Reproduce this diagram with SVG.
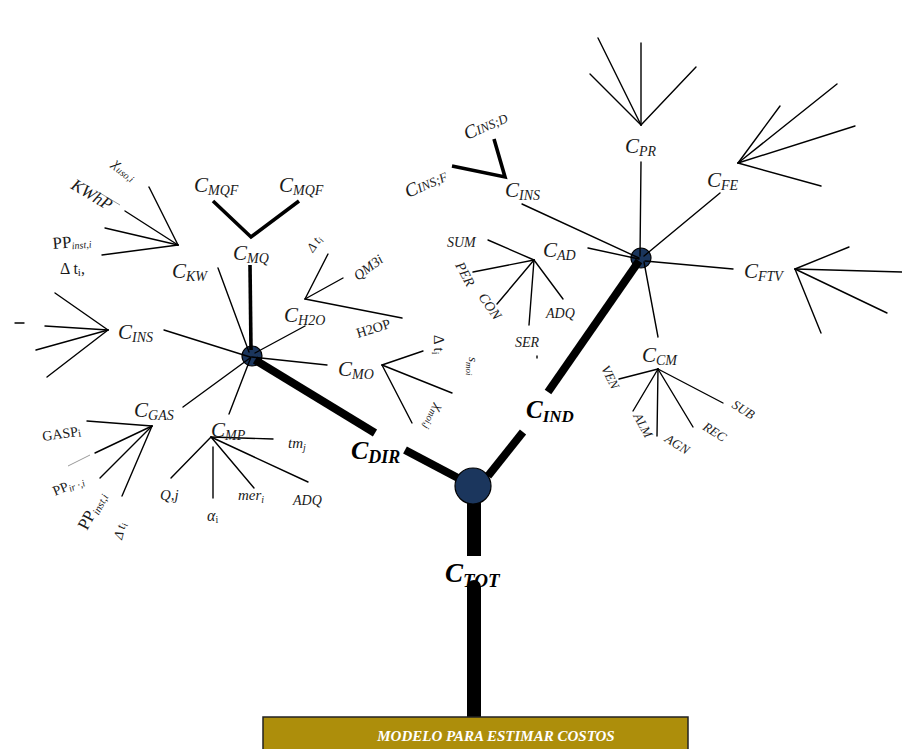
<svg xmlns="http://www.w3.org/2000/svg" width="902" height="749" viewBox="0 0 902 749">
<style>
.t{font-family:"Liberation Serif","Times New Roman",serif;font-style:italic;fill:#1a1a1a}
.c{font-size:21px}
.s{font-size:14px}
.m{font-size:14px}
.b{font-weight:bold;fill:#000}
.thin{stroke:#000;stroke-width:1.4;fill:none;stroke-linecap:round}
.med{stroke:#000;stroke-width:3.6;fill:none;stroke-linecap:butt;stroke-linejoin:miter}
.thick{stroke:#000;stroke-width:8;fill:none;stroke-linecap:butt}
.faint{stroke:#999;stroke-width:1;fill:none}
.node{fill:#1b365d;stroke:#000;stroke-width:1.2}
</style>
<rect width="902" height="749" fill="#fff"/>

<g id="small-nodes">
<circle class="node" cx="252" cy="356" r="10"/>
<circle class="node" cx="641" cy="258" r="10"/>
</g>

<g id="connectors">
<line x1="474" y1="500" x2="474" y2="556" stroke="#000" stroke-width="14"/>
<line x1="474" y1="587" x2="474" y2="717" stroke="#000" stroke-width="14" stroke-linecap="round"/>
<line class="thick" x1="458" y1="478" x2="405" y2="450"/>
<line class="thick" x1="375" y1="433" x2="255" y2="360"/>
<line class="thick" x1="488" y1="476" x2="523" y2="432"/>
<line class="thick" x1="548" y1="392" x2="639" y2="261"/>
<line class="med" x1="250" y1="265" x2="251" y2="350"/>
<polyline class="med" points="213,201 251,237 299,201"/>
<line class="thin" x1="218" y1="268" x2="249" y2="352"/>
<line class="thin" x1="305" y1="326" x2="255" y2="353"/>
<line class="thin" x1="164" y1="330" x2="250" y2="357"/>
<line class="thin" x1="183" y1="407" x2="250" y2="358"/>
<line class="thin" x1="229" y1="414" x2="251" y2="357"/>
<line class="thin" x1="252" y1="357" x2="327" y2="365"/>
<line class="thin" x1="178" y1="245" x2="149" y2="187"/>
<line class="thin" x1="178" y1="245" x2="125" y2="211"/>
<line class="thin" x1="178" y1="245" x2="105" y2="228"/>
<line class="thin" x1="178" y1="245" x2="102" y2="255"/>
<line class="faint" x1="100" y1="193" x2="120" y2="205"/>
<line class="thin" x1="305" y1="299" x2="328" y2="254"/>
<line class="thin" x1="305" y1="299" x2="343" y2="278"/>
<line class="thin" x1="305" y1="299" x2="402" y2="318"/>
<line class="thin" x1="108" y1="330" x2="55" y2="293"/>
<line class="thin" x1="108" y1="330" x2="45" y2="326"/>
<line class="thin" x1="108" y1="330" x2="36" y2="350"/>
<line class="thin" x1="108" y1="330" x2="47" y2="377"/>
<line class="thin" x1="15" y1="323" x2="24" y2="323"/>
<line class="thin" x1="152" y1="426" x2="87" y2="421"/>
<line class="thin" x1="152" y1="426" x2="95" y2="453"/>
<line class="thin" x1="152" y1="426" x2="100" y2="478"/>
<line class="thin" x1="152" y1="426" x2="122" y2="496"/>
<line class="faint" x1="68" y1="466" x2="90" y2="455"/>
<line class="thin" x1="211" y1="437" x2="273" y2="439"/>
<line class="thin" x1="211" y1="437" x2="171" y2="478"/>
<line class="thin" x1="213" y1="447" x2="213" y2="498"/>
<line class="thin" x1="211" y1="437" x2="254" y2="488"/>
<line class="thin" x1="211" y1="437" x2="308" y2="482"/>
<line class="thin" x1="382" y1="365" x2="423" y2="351"/>
<line class="thin" x1="382" y1="365" x2="452" y2="393"/>
<line class="thin" x1="382" y1="365" x2="412" y2="423"/>
<line class="thin" x1="641" y1="162" x2="640" y2="256"/>
<line class="thin" x1="720" y1="193" x2="644" y2="256"/>
<line class="thin" x1="645" y1="261" x2="733" y2="269"/>
<line class="thin" x1="644" y1="262" x2="658" y2="337"/>
<line class="thin" x1="522" y1="204" x2="639" y2="258"/>
<line class="thin" x1="588" y1="248" x2="639" y2="259"/>
<polyline class="med" points="452,166 505,177 494,139"/>
<line class="thin" x1="534" y1="260" x2="488" y2="240"/>
<line class="thin" x1="534" y1="260" x2="473" y2="272"/>
<line class="thin" x1="534" y1="260" x2="497" y2="304"/>
<line class="thin" x1="534" y1="260" x2="529" y2="325"/>
<line class="thin" x1="534" y1="260" x2="563" y2="299"/>
<line class="thin" x1="537" y1="356" x2="537" y2="358"/>
<line class="thin" x1="641" y1="125" x2="598" y2="38"/>
<line class="thin" x1="641" y1="125" x2="590" y2="74"/>
<line class="thin" x1="641" y1="125" x2="641" y2="43"/>
<line class="thin" x1="641" y1="125" x2="696" y2="67"/>
<line class="thin" x1="738" y1="163" x2="780" y2="106"/>
<line class="thin" x1="738" y1="163" x2="837" y2="84"/>
<line class="thin" x1="738" y1="163" x2="855" y2="126"/>
<line class="thin" x1="738" y1="163" x2="821" y2="186"/>
<line class="thin" x1="795" y1="269" x2="849" y2="247"/>
<line class="thin" x1="795" y1="269" x2="902" y2="272"/>
<line class="thin" x1="795" y1="269" x2="887" y2="313"/>
<line class="thin" x1="795" y1="269" x2="821" y2="333"/>
<line class="thin" x1="658" y1="369" x2="619" y2="379"/>
<line class="thin" x1="658" y1="369" x2="633" y2="411"/>
<line class="thin" x1="658" y1="369" x2="657" y2="436"/>
<line class="thin" x1="658" y1="369" x2="693" y2="427"/>
<line class="thin" x1="658" y1="369" x2="723" y2="403"/>
</g>

<g id="node-tot-circle">
<circle class="node" cx="473" cy="486" r="18"/>
</g>

<g id="base">
<rect x="263" y="717" width="425" height="36" fill="#ad8e0b" stroke="#222" stroke-width="1.5"/>
<text x="496" y="741" text-anchor="middle" font-family="Liberation Serif, serif" font-style="italic" font-weight="bold" font-size="15" fill="#fff">MODELO PARA ESTIMAR COSTOS</text>
</g>

<g id="n-tot"><text class="t b" x="445" y="582" font-size="27">C<tspan font-size="19" dy="5">TOT</tspan></text></g>
<g id="n-dir"><text class="t b" x="351" y="459" font-size="26">C<tspan font-size="18" dy="4">DIR</tspan></text></g>
<g id="n-ind"><text class="t b" x="526" y="418" font-size="25">C<tspan font-size="17" dy="4">IND</tspan></text></g>

<g id="n-mqf1"><text class="t c" x="194" y="192">C<tspan class="s" dy="3">MQF</tspan></text></g>
<g id="n-mqf2"><text class="t c" x="279" y="192">C<tspan class="s" dy="3">MQF</tspan></text></g>
<g id="n-mq"><text class="t c" x="233" y="260">C<tspan class="s" dy="3">MQ</tspan></text></g>
<g id="n-kw"><text class="t c" x="172" y="278">C<tspan class="s" dy="3">KW</tspan></text></g>
<g id="n-h2o"><text class="t c" x="284" y="322">C<tspan class="s" dy="3">H2O</tspan></text></g>
<g id="n-h2o-leaves">
<text class="t" font-size="13" transform="rotate(-55 313 253)" x="313" y="253">Δ t<tspan font-size="9" dy="2">i</tspan></text>
<text class="t" font-size="14" transform="rotate(-37 358 281)" x="358" y="281">QM3i</text>
<text class="t" font-size="14" transform="rotate(-17 358 338)" x="358" y="338" style="font-style:normal">H2OP</text>
</g>
<g id="n-kw-leaves">
<text class="t" font-size="15" transform="rotate(37 112 165)" x="112" y="165">χ<tspan font-size="10" dy="3">uso,i</tspan></text>
<text class="t" font-size="17" transform="rotate(31 70 188)" x="70" y="188">KWhP</text>
<text class="t" font-size="17" style="font-style:normal" transform="rotate(-5 53 249)" x="53" y="249">PP<tspan font-size="10" dy="2" style="font-style:italic">inst,i</tspan></text>
<text class="t" font-size="16" style="font-style:normal" x="60" y="274">Δ t<tspan font-size="11" dy="2">i</tspan><tspan dy="-2">,</tspan></text>
</g>
<g id="n-ins-left"><text class="t c" x="118" y="339">C<tspan class="s" dy="3">INS</tspan></text></g>
<g id="n-gas"><text class="t c" x="134" y="417">C<tspan class="s" dy="3">GAS</tspan></text></g>
<g id="n-gas-leaves">
<text class="t" font-size="14" style="font-style:normal" transform="rotate(-8 43 441)" x="43" y="441">GASP<tspan font-size="11" dy="1">i</tspan></text>
<text class="t" font-size="14" style="font-style:normal" transform="rotate(-22 55 496)" x="55" y="496">PP<tspan font-size="10" dy="2" style="font-style:italic">ir ·,i</tspan></text>
<text class="t" font-size="17" style="font-style:normal" transform="rotate(-62 87 531)" x="87" y="531">PP<tspan font-size="11" dy="3" style="font-style:italic">inst,i</tspan></text>
<text class="t" font-size="13" transform="rotate(-76 122 540)" x="122" y="540">Δ t<tspan font-size="9" dy="2">i</tspan></text>
</g>
<g id="n-mp"><text class="t c" x="211" y="437">C<tspan class="s" dy="3">MP</tspan></text></g>
<g id="n-mp-leaves">
<text class="t" font-size="15" x="288" y="448">tm<tspan font-size="10" dy="3">j</tspan></text>
<text class="t" font-size="15" x="160" y="500">Q,j</text>
<text class="t" font-size="16" x="207" y="521">α<tspan font-size="10" dy="2" style="font-style:normal">i</tspan></text>
<text class="t" font-size="15" x="238" y="500">mer<tspan font-size="10" dy="3">i</tspan></text>
<text class="t" font-size="14" x="293" y="505">ADQ</text>
</g>
<g id="n-mo"><text class="t c" x="338" y="376">C<tspan class="s" dy="3">MO</tspan></text></g>
<g id="n-mo-leaves">
<text class="t" font-size="15" style="font-style:normal" transform="rotate(90 434 335)" x="434" y="335">Δ t<tspan font-size="10" dy="2">i</tspan></text>
<text class="t" font-size="13" transform="rotate(90 469 357)" x="469" y="357">s<tspan font-size="9" dy="3">moi</tspan></text>
<text class="t" font-size="14" transform="rotate(114 436 404)" x="436" y="404">χ<tspan font-size="10" dy="3">moi,j</tspan></text>
</g>

<g id="n-ins-right"><text class="t c" x="505" y="197">C<tspan class="s" dy="3">INS</tspan></text></g>
<g id="n-ins-d"><text class="t" font-size="19" transform="rotate(-24 467 140)" x="467" y="140">C<tspan font-size="13">INS;D</tspan></text></g>
<g id="n-ins-f"><text class="t" font-size="19" transform="rotate(-24 408 198)" x="408" y="198">C<tspan font-size="13">INS;F</tspan></text></g>
<g id="n-ad"><text class="t c" x="543" y="257">C<tspan class="s" dy="3">AD</tspan></text></g>
<g id="n-ad-leaves">
<text class="t" font-size="14" x="447" y="247">SUM</text>
<text class="t" font-size="14" transform="rotate(62 455 265)" x="455" y="265">PER</text>
<text class="t" font-size="14" transform="rotate(55 478 297)" x="478" y="297">CON</text>
<text class="t" font-size="14" x="515" y="347">SER</text>
<text class="t" font-size="14" x="546" y="318">ADQ</text>
</g>
<g id="n-pr"><text class="t c" x="625" y="153">C<tspan class="s" dy="3">PR</tspan></text></g>
<g id="n-fe"><text class="t c" x="707" y="187">C<tspan class="s" dy="3">FE</tspan></text></g>
<g id="n-ftv"><text class="t c" x="744" y="278">C<tspan class="s" dy="3">FTV</tspan></text></g>
<g id="n-cm"><text class="t c" x="642" y="362">C<tspan class="s" dy="3">CM</tspan></text></g>
<g id="n-cm-leaves">
<text class="t" font-size="13" transform="rotate(64 601 368)" x="601" y="368">VEN</text>
<text class="t" font-size="13" transform="rotate(61 633 416)" x="633" y="416">ALM</text>
<text class="t" font-size="13" transform="rotate(32 664 441)" x="664" y="441">AGN</text>
<text class="t" font-size="13" transform="rotate(32 702 429)" x="702" y="429">REC</text>
<text class="t" font-size="13" transform="rotate(32 731 407)" x="731" y="407">SUB</text>
</g>
</svg>
